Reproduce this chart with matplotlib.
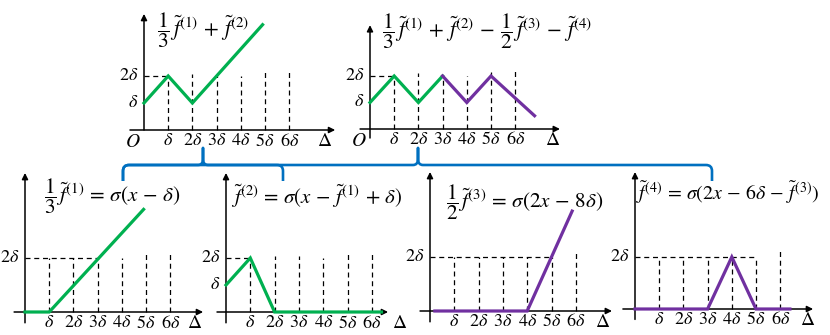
import matplotlib

matplotlib.use("Agg")
import matplotlib.pyplot as plt
from matplotlib.path import Path
from matplotlib.patches import PathPatch

plt.rcParams["mathtext.fontset"] = "stix"
plt.rcParams["font.family"] = ["STIXGeneral", "DejaVu Serif"]

GREEN = "#00B050"
PURPLE = "#7030A0"
BLUE = "#0070C0"

W, H = 830, 335

tick_pos = [1, 2, 3, 4, 5, 6]
tick_labels = [r"$\delta$", r"$2\delta$", r"$3\delta$", r"$4\delta$", r"$5\delta$", r"$6\delta$"]

# curves, in units of delta
p1_x = [0, 1, 2, 4.9]
p1_y = [1, 2, 1, 3.9]
p2_green_x = [0, 1, 2, 3]
p2_green_y = [1, 2, 1, 2]
p2_purple_x = [3, 4, 5, 6.8]
p2_purple_y = [2, 1, 2, 0.5]
p3_x = [0, 1, 4.9]
p3_y = [0, 0, 3.8]
p4_x = [0, 1, 2, 6.4]
p4_y = [1, 2, 0, 0]
p5_x = [0.2, 4, 5.85]
p5_y = [0, 0, 3.7]
p6_x = [0, 3, 4, 5, 6.4]
p6_y = [0, 0, 2, 0, 0]

# heights of the dashed guides at delta..6delta
p1_guides = [2, 2.07, 2, 2, 2.2, 2.2]
p2_guides = [2, 2.1, 2, 2, 2.15, 2.2]
p3_guides = [2, 2, 2, 2, 2.15, 2.15]
p4_guides = [2, 2.07, 2.07, 2, 2.15, 2.15]
p5_guides = [2, 2, 2, 2, 2, 2.15]
p6_guides = [2, 2, 2, 2, 2, 2.3]

titles = [
    r"$\dfrac{1}{3}\,\tilde{f}^{(1)}\,+\,\tilde{f}^{(2)}$",
    r"$\dfrac{1}{3}\,\tilde{f}^{(1)}\,+\,\tilde{f}^{(2)}\,-\,\dfrac{1}{2}\,\tilde{f}^{(3)}\,-\,\tilde{f}^{(4)}$",
    r"$\dfrac{1}{3}\,\tilde{f}^{(1)}\,=\,\sigma(x\,-\,\delta)$",
    r"$\tilde{f}^{(2)}\,=\,\sigma(x\,-\,\tilde{f}^{(1)}\,+\,\delta)$",
    r"$\dfrac{1}{2}\,\tilde{f}^{(3)}\,=\,\sigma(2x\,-\,8\delta)$",
    r"$\tilde{f}^{(4)}\,=\,\sigma(2x\,-\,6\delta\,-\,\tilde{f}^{(3)})$",
]
title_sizes = [15.5, 15.5, 15.2, 15, 15.2, 14.3]

# layout of each panel: origin (px), px per delta, axis extents, label spots
panels = [
    dict(o=(144, 130), u=(24.2, 27), xr=(-0.58, 7.9), yr=(0, 4.3), hd=1,
         guides=p1_guides, ylab=[1, 2], origin=True, dx=7.48, title=(157, 30),
         lines=[(p1_x, p1_y, GREEN)]),
    dict(o=(370, 129), u=(24.2, 26.5), xr=(-0.41, 7.85), yr=(-0.34, 3.92), hd=1,
         guides=p2_guides, ylab=[1, 2], origin=True, dx=7.56, title=(382, 31),
         lines=[(p2_green_x, p2_green_y, GREEN), (p2_purple_x, p2_purple_y, PURPLE)]),
    dict(o=(25, 312), u=(24.2, 27), xr=(-0.45, 7.36), yr=(-0.4, 5.15), hd=3,
         guides=p3_guides, ylab=[2], origin=False, dx=7.0, title=(44, 196),
         lines=[(p3_x, p3_y, GREEN)]),
    dict(o=(226, 312), u=(24.3, 27), xr=(-0.37, 6.67), yr=(-0.4, 5.15), hd=1,
         guides=p4_guides, ylab=[1, 2], origin=False, dx=7.16, title=(231, 196),
         lines=[(p4_x, p4_y, GREEN)]),
    dict(o=(430, 311), u=(24.3, 27), xr=(-0.41, 7.49), yr=(-0.4, 5.15), hd=5,
         guides=p5_guides, ylab=[2], origin=False, dx=7.12, title=(446, 202),
         lines=[(p5_x, p5_y, PURPLE)]),
    dict(o=(635, 309), u=(24.2, 26), xr=(-0.5, 7.36), yr=(-0.4, 5.27), hd=5,
         guides=p6_guides, ylab=[2], origin=False, dx=7.15, title=(636, 193),
         lines=[(p6_x, p6_y, PURPLE)]),
]

fig = plt.figure(figsize=(W / 100, H / 100), dpi=100)

# overlay in pixel coordinates for titles and braces
over = fig.add_axes([0, 0, 1, 1])
over.set_xlim(0, W)
over.set_ylim(H, 0)
over.axis("off")

arrow = dict(arrowstyle="-|>", lw=1.1, color="black", mutation_scale=9,
             shrinkA=0, shrinkB=0)
dash = dict(color="black", lw=0.9, ls=(0, (4, 3)))

for i, p in enumerate(panels):
    ox, oy = p["o"]
    ux, uy = p["u"]
    ax = fig.add_axes([0, 0, 1, 1])
    ax.set_xlim(-ox / ux, (W - ox) / ux)
    ax.set_ylim(-(H - oy) / uy, oy / uy)
    ax.axis("off")
    ax.patch.set_alpha(0)

    ax.annotate("", xy=(p["xr"][1], 0), xytext=(p["xr"][0], 0), arrowprops=arrow)
    ax.annotate("", xy=(0, p["yr"][1]), xytext=(0, p["yr"][0]), arrowprops=arrow)

    ax.plot([0, p["hd"]], [2, 2], **dash)
    for t, g in zip(tick_pos, p["guides"]):
        ax.plot([t, t], [0, g], **dash)

    for xs, ys, c in p["lines"]:
        ax.plot(xs, ys, color=c, lw=2.3, solid_joinstyle="miter", zorder=5)

    for t, lab in zip(tick_pos, tick_labels):
        ax.annotate(lab, xy=(t, 0), xytext=(0, -11), textcoords="offset pixels",
                    ha="center", va="center", fontsize=13)
    ax.annotate(r"$\Delta$", xy=(p["dx"], 0), xytext=(0, -11), textcoords="offset pixels",
                ha="center", va="center", fontsize=14)
    for v in p["ylab"]:
        ax.annotate(tick_labels[v - 1], xy=(0, v), xytext=(-6, 0), textcoords="offset pixels",
                    ha="right", va="center", fontsize=13)
    if p["origin"]:
        ax.annotate(r"$O$", xy=(0, 0), xytext=(-11, -12), textcoords="offset pixels",
                    ha="center", va="center", fontsize=14)

    over.text(p["title"][0], p["title"][1], titles[i], ha="left", va="center",
              fontsize=title_sizes[i])


def brace(x0, x1, tip, y=165, drop=181, r=6, top=148):
    verts = [(x0, drop), (x0, y + r), (x0, y), (x0 + r, y),
             (tip - 5, y), (tip, y), (tip, y - 6), (tip, top),
             (tip, y - 6), (tip, y), (tip + 5, y),
             (x1 - r, y), (x1, y), (x1, y + r), (x1, drop)]
    codes = [Path.MOVETO, Path.LINETO, Path.CURVE3, Path.CURVE3,
             Path.LINETO, Path.CURVE3, Path.CURVE3, Path.LINETO,
             Path.LINETO, Path.CURVE3, Path.CURVE3,
             Path.LINETO, Path.CURVE3, Path.CURVE3, Path.LINETO]
    over.add_patch(PathPatch(Path(verts, codes), fill=False, ec=BLUE, lw=1.9,
                             capstyle="butt", joinstyle="round"))


brace(123, 712, 418)
brace(123, 283, 203)

fig.savefig("out.png", dpi=100)
